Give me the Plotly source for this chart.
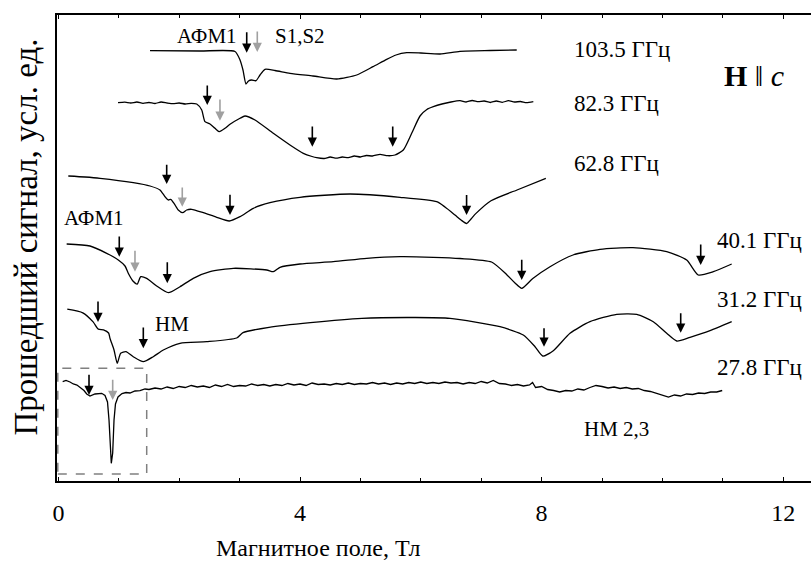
import plotly.graph_objects as go

# Transmitted signal (arb. units, curves stacked with vertical offsets) vs magnetic field (T)

field_1035 = [1.517, 2.344, 2.924, 3.007, 3.056, 3.106, 3.147, 3.200, 3.272, 3.338, 3.421, 3.586,
              3.834, 4.215, 4.608, 4.939, 5.209, 5.435, 5.589, 5.767, 6.000, 6.318, 6.649, 7.146, 7.588]
signal_1035 = [429.8, 429.5, 429.0, 420.5, 410.5, 396.5, 399.5, 400.5, 399.8, 405.5, 411.2, 410.0,
               407.2, 404.5, 401.5, 405.5, 413.8, 421.2, 425.5, 427.8, 427.5, 426.5, 429.2, 430.0, 430.5]

field_823 = [0.987, 1.10, 1.20, 1.30, 1.40, 1.50, 1.60, 1.70, 1.80, 1.90, 2.00, 2.10, 2.20, 2.29,
             2.373, 2.427, 2.510, 2.593, 2.664, 2.758, 2.841, 3.007, 3.089, 3.255, 3.558, 3.834,
             4.055, 4.20, 4.276, 4.40, 4.50, 4.60, 4.70, 4.80, 4.90, 5.00, 5.10, 5.20, 5.325, 5.45,
             5.573, 5.710, 5.849, 5.987, 6.100, 6.207, 6.35, 6.50, 6.649, 6.75, 6.85, 6.95, 7.05,
             7.15, 7.25, 7.35, 7.45, 7.55, 7.65, 7.75, 7.863]
signal_823 = [377.8, 378.3, 377.5, 378.5, 377.2, 378.0, 377.0, 378.5, 377.5, 376.8, 377.5, 376.5, 377.2, 376.5,
              370.5, 358.8, 356.5, 352.2, 348.8, 352.2, 356.2, 362.2, 364.5, 360.5, 347.2, 335.5,
              327.2, 324.0, 322.8, 322.0, 323.5, 322.3, 323.5, 322.8, 324.5, 323.5, 325.0, 324.5, 326.2, 324.8,
              325.5, 330.5, 347.2, 364.5, 371.0, 373.8, 376.5, 378.5, 379.8, 378.5, 380.0, 378.8, 379.5,
              378.0, 379.5, 378.2, 379.8, 378.5, 379.0, 377.8, 378.8]

field_628 = [0.164, 0.440, 0.689, 1.240, 1.517, 1.682, 1.765, 1.820, 1.859, 1.914, 1.985, 2.058, 2.124,
             2.207, 2.399, 2.621, 2.829, 3.007, 3.227, 3.503, 4.000, 4.828, 5.656, 6.263, 6.401, 6.566,
             6.666, 6.758, 6.831, 6.914, 7.162, 7.593, 8.070]
signal_628 = [304.5, 303.5, 302.2, 297.8, 294.5, 290.5, 283.8, 280.5, 281.2, 277.2, 270.5, 267.8, 270.5,
              271.2, 267.8, 263.2, 259.5, 263.8, 272.2, 277.8, 283.2, 286.5, 283.2, 278.8, 273.5, 265.5,
              260.5, 257.0, 261.5, 267.1, 279.8, 290.5, 302.2]

field_401 = [0.137, 0.523, 0.800, 0.992, 1.103, 1.157, 1.230, 1.306, 1.363, 1.462, 1.627, 1.820, 2.013,
             2.233, 2.510, 2.896, 3.449, 3.558, 3.669, 4.000, 4.551, 5.104, 5.656, 6.207, 6.649, 7.171,
             7.427, 7.560, 7.671, 7.854, 8.139, 8.520, 8.967, 9.513, 10.071, 10.402, 10.594, 10.843, 11.147]
signal_401 = [236.5, 234.5, 227.2, 220.5, 214.5, 207.2, 199.8, 196.5, 203.8, 202.2, 194.5, 187.8, 193.8,
              202.2, 208.8, 212.2, 210.5, 208.8, 213.2, 216.5, 218.8, 222.2, 223.8, 223.2, 222.0, 218.5,
              205.6, 197.5, 192.2, 202.0, 213.8, 225.5, 231.2, 232.8, 228.8, 220.5, 205.5, 208.8, 216.5]

field_312 = [0.147, 0.404, 0.575, 0.661, 0.747, 0.831, 0.854, 0.921, 0.975, 1.031, 1.119, 1.240, 1.406,
             1.571, 1.737, 2.013, 2.455, 2.952, 3.056, 3.487, 4.172, 5.026, 5.886, 6.483, 7.311, 7.697,
             7.891, 8.018, 8.194, 8.470, 8.801, 9.243, 9.575, 9.849, 10.071, 10.237, 10.457, 10.788, 11.147]
signal_312 = [171.3, 167.7, 158.6, 151.4, 150.7, 147.5, 142.2, 130.5, 117.2, 127.2, 128.8, 123.8, 118.8,
              123.8, 130.5, 137.2, 138.8, 142.5, 147.8, 153.2, 157.9, 162.2, 163.0, 162.2, 153.8, 145.5,
              133.8, 124.5, 129.8, 147.2, 158.8, 166.2, 166.2, 158.8, 147.2, 139.5, 143.2, 149.8, 158.8]

field_278 = [0.071, 0.126, 0.192, 0.247, 0.308, 0.358, 0.424, 0.469, 0.523, 0.606, 0.717, 0.772, 0.813,
             0.838, 0.859, 0.876, 0.899, 0.921, 0.945, 0.987, 1.053, 1.119, 1.185, 1.268, 1.351, 1.434,
             1.5, 1.6, 1.7, 1.8, 1.9, 2.0, 2.1, 2.2, 2.3, 2.4, 2.5, 2.6, 2.7, 2.8, 2.9, 3.0, 3.1, 3.2,
             3.3, 3.4, 3.5, 3.6, 3.7, 3.8, 3.9, 4.0, 4.1, 4.2, 4.3, 4.4, 4.5, 4.6, 4.7, 4.8, 4.9, 5.0,
             5.1, 5.2, 5.3, 5.4, 5.5, 5.6, 5.7, 5.8, 5.9, 6.0, 6.1, 6.2, 6.3, 6.4, 6.5, 6.6, 6.7, 6.8,
             6.9, 7.0, 7.1, 7.2, 7.3, 7.4, 7.5, 7.6, 7.7, 7.8, 7.85, 7.9, 8.0, 8.1, 8.2, 8.3, 8.4, 8.5,
             8.6, 8.7, 8.8, 8.9, 9.0, 9.1, 9.2, 9.3, 9.4, 9.5, 9.6, 9.7, 9.8, 9.9, 10.0, 10.1, 10.2,
             10.3, 10.4, 10.5, 10.6, 10.7, 10.8, 10.9, 10.99]
signal_278 = [98.8, 100.0, 98.5, 96.5, 95.5, 93.2, 90.0, 86.5, 84.5, 86.5, 87.2, 85.0, 78.5,
              60.5, 40.5, 17.2, 27.5, 60.5, 76.5, 83.5, 87.0, 88.0, 87.5, 89.5, 89.8, 91.5,
              91.0, 92.5, 91.5, 93.5, 92.0, 94.0, 93.0, 95.0, 93.5, 94.5, 93.0, 95.5, 94.0, 96.0, 94.0, 95.0, 94.5, 96.5,
              95.0, 96.0, 94.5, 96.0, 95.0, 97.0, 95.5, 96.5, 95.0, 97.5, 96.0, 96.5, 95.5, 97.0, 96.0, 97.5, 96.0, 97.0,
              96.5, 98.0, 96.5, 97.5, 96.0, 97.5, 96.5, 98.0, 97.0, 98.5, 97.0, 98.0, 97.0, 98.5, 97.5, 98.0, 96.5, 98.0,
              97.0, 99.0, 97.5, 100.0, 97.0, 96.5, 95.0, 96.0, 94.5, 95.5, 98.0, 93.0, 94.0, 91.0, 90.0, 88.5, 90.0, 89.5,
              91.5, 90.5, 93.0, 95.0, 94.0, 92.5, 93.5, 92.0, 93.0, 91.5, 92.0, 90.0, 89.0, 87.0, 85.0, 83.5, 85.5,
              84.5, 86.5, 86.0, 87.5, 87.0, 88.5, 88.5, 90.0]

# (field, signal, line shape) per frequency, top to bottom
curves = [
    (field_1035, signal_1035, "spline"),
    (field_823, signal_823, "spline"),
    (field_628, signal_628, "spline"),
    (field_401, signal_401, "spline"),
    (field_312, signal_312, "spline"),
    (field_278, signal_278, "linear"),
]

# Resonance markers: (field, tail signal, tip signal, colour)
BLACK = "#000000"
GREY = "#a0a0a0"
arrow_field = [3.118, 3.293,
               2.465, 2.675, 4.204, 5.535,
               1.793, 2.051, 2.841, 6.758,
               1.008, 1.268, 1.803, 7.671, 10.634,
               0.656, 1.406, 8.040, 10.303,
               0.507, 0.899]
arrow_tail = [449.8, 450.5,
              396.5, 382.5, 355.5, 355.5,
              317.2, 294.5, 287.2, 287.0,
              245.5, 231.2, 219.8, 222.2, 237.5,
              180.5, 154.5, 153.8, 168.8,
              107.2, 102.2]
arrow_tip = [427.8, 428.5,
             375.5, 359.8, 333.8, 333.8,
             296.5, 273.8, 265.5, 265.5,
             223.8, 208.8, 197.2, 200.5, 215.5,
             158.5, 132.2, 133.8, 147.8,
             85.5, 80.5]
arrow_color = [BLACK, GREY,
               BLACK, GREY, BLACK, BLACK,
               BLACK, GREY, BLACK, BLACK,
               BLACK, GREY, BLACK, BLACK, BLACK,
               BLACK, BLACK, BLACK, BLACK,
               BLACK, GREY]

# Frequency labels
freq_text = ["103.5 ГГц", "82.3 ГГц", "62.8 ГГц", "40.1 ГГц", "31.2 ГГц", "27.8 ГГц"]
freq_field = [8.499, 8.499, 8.499, 10.871, 10.871, 10.871]
freq_signal = [431.2, 377.5, 317.2, 240.5, 181.2, 113.2]

# Mode labels
mode_text = ["АФМ1", "S1,S2", "АФМ1", "НМ", "НМ 2,3"]
mode_field = [1.93, 3.558, 0.055, 1.560, 8.664]
mode_signal = [444.5, 444.5, 262.2, 156.8, 51.2]

FONT = "Liberation Serif, DejaVu Serif, Times New Roman, serif"

fig = go.Figure()
for fx, sy, shape in curves:
    fig.add_trace(go.Scatter(x=fx, y=sy, mode="lines",
                             line=dict(color="black", width=1.3, shape=shape, smoothing=0.6),
                             hoverinfo="skip", showlegend=False))

annotations = []
for bx, ty, hy, col in zip(arrow_field, arrow_tail, arrow_tip, arrow_color):
    annotations.append(dict(x=bx, y=hy, ax=bx, ay=ty, xref="x", yref="y", axref="x", ayref="y",
                            text="", showarrow=True, arrowhead=2, arrowsize=1.15, arrowwidth=1.6,
                            arrowcolor=col, standoff=0, startstandoff=0))
for t, bx, sy in zip(freq_text, freq_field, freq_signal):
    annotations.append(dict(x=bx, y=sy, xref="x", yref="y", text=t, showarrow=False,
                            xanchor="left", yanchor="middle", font=dict(family=FONT, size=23, color="black")))
for t, bx, sy in zip(mode_text, mode_field, mode_signal):
    annotations.append(dict(x=bx, y=sy, xref="x", yref="y", text=t, showarrow=False,
                            xanchor="left", yanchor="middle", font=dict(family=FONT, size=21, color="black")))

annotations.append(dict(x=10.982, y=405.5, xref="x", yref="y", text="<b>H</b> ‖ <i>c</i>",
                        showarrow=False, xanchor="left", yanchor="middle",
                        font=dict(family=FONT, size=30, color="black")))

# Axis titles
annotations.append(dict(x=4.3, y=-0.144, xref="x", yref="paper", text="Магнитное поле, Тл",
                        showarrow=False, xanchor="center", yanchor="middle",
                        font=dict(family=FONT, size=24, color="black")))
annotations.append(dict(x=-0.0424, y=0.5225, xref="paper", yref="paper",
                        text="Прошедший сигнал, усл. ед.", textangle=-90,
                        showarrow=False, xanchor="center", yanchor="middle",
                        font=dict(family=FONT, size=33, color="black")))

# Dashed frame round the low-field part of the 27.8 GHz trace
fig.add_shape(type="rect", x0=-0.01, x1=1.462, y0=6.5, y1=112.2, xref="x", yref="y",
              line=dict(color="#808080", width=1.5, dash="dash"))

fig.update_layout(
    width=811, height=567,
    margin=dict(l=57, r=0, t=15, b=86),
    paper_bgcolor="white", plot_bgcolor="white",
    annotations=annotations,
    showlegend=False,
    font=dict(family=FONT, color="black"),
)
fig.update_xaxes(range=[-0.023, 12.46], tickvals=[0, 4, 8, 12], ticktext=["0", "4", "8", "12"],
                 ticks="inside", ticklen=4, tickwidth=1.2, tickcolor="black",
                 minor=dict(dtick=1, ticks="inside", ticklen=3, tickwidth=1, tickcolor="black"),
                 showline=True, linewidth=2, linecolor="black", mirror="ticks",
                 showgrid=False, zeroline=False, ticklabelstandoff=9,
                 tickfont=dict(family=FONT, size=24, color="black"))
fig.update_yaxes(range=[-0.5, 465.5], showticklabels=False, ticks="",
                 showline=True, linewidth=2, linecolor="black", mirror=False,
                 showgrid=False, zeroline=False)

fig.write_html("out.html")
